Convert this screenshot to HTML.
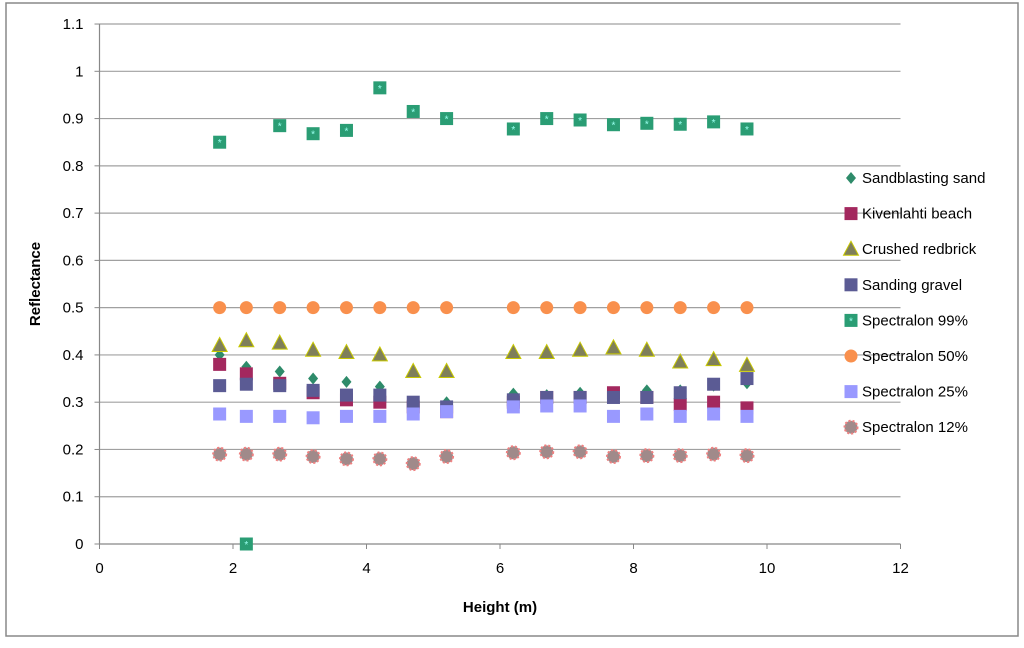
<!DOCTYPE html>
<html><head><meta charset="utf-8"><style>
body{margin:0;background:#fff;font-family:"Liberation Sans",Arial,sans-serif}
svg text{font-family:"Liberation Sans",Arial,sans-serif}
</style></head><body>
<svg id="c" width="1024" height="643" xmlns="http://www.w3.org/2000/svg">
<rect x="6" y="3" width="1012" height="633" fill="#fff" stroke="#888" stroke-width="1.5"/>
<g id="grid"></g><g id="axes"></g><g id="marks"></g><g id="legend"></g>
<text x="500" y="612" text-anchor="middle" font-size="15" font-weight="bold">Height (m)</text>
<text transform="translate(40,284) rotate(-90)" text-anchor="middle" font-size="15" font-weight="bold">Reflectance</text>
</svg>
<script>
const heights=[1.8,2.2,2.7,3.2,3.7,4.2,4.7,5.2,6.2,6.7,7.2,7.7,8.2,8.7,9.2,9.7];
const seriesNames=["Sandblasting sand","Kivenlahti beach","Crushed redbrick","Sanding gravel","Spectralon 99%","Spectralon 50%","Spectralon 25%","Spectralon 12%"];
const sandblasting=[0.40,0.375,0.365,0.35,0.343,0.333,0.30,0.30,0.318,0.315,0.32,0.32,0.325,0.325,0.335,0.34];
const kivenlahti=[0.38,0.36,0.34,0.32,0.305,0.30,0.29,0.28,0.30,0.31,0.31,0.32,0.31,0.295,0.30,0.288];
const redbrick=[0.42,0.43,0.425,0.41,0.405,0.40,0.365,0.365,0.405,0.405,0.41,0.415,0.41,0.385,0.39,0.378];
const gravel=[0.335,0.338,0.335,0.325,0.315,0.315,0.30,0.29,0.305,0.31,0.31,0.31,0.31,0.32,0.338,0.35];
const spec99=[0.85,0.0,0.885,0.868,0.875,0.965,0.915,0.90,0.878,0.90,0.897,0.887,0.89,0.888,0.893,0.878];
const spec50=[0.5,0.5,0.5,0.5,0.5,0.5,0.5,0.5,0.5,0.5,0.5,0.5,0.5,0.5,0.5,0.5];
const spec25=[0.275,0.27,0.27,0.267,0.27,0.27,0.275,0.28,0.29,0.292,0.292,0.27,0.275,0.27,0.275,0.27];
const spec12=[0.19,0.19,0.19,0.185,0.18,0.18,0.17,0.185,0.193,0.195,0.195,0.185,0.187,0.187,0.19,0.187];
const yTicks=["0","0.1","0.2","0.3","0.4","0.5","0.6","0.7","0.8","0.9","1","1.1"];
const xTicks=["0","2","4","6","8","10","12"];
const NS="http://www.w3.org/2000/svg";
const X=v=>99.5+v*66.75, Y=v=>544-v*472.7;
function mk(t,a,p){const e=document.createElementNS(NS,t);for(const k in a)e.setAttribute(k,a[k]);p.appendChild(e);return e;}
const grid=document.getElementById('grid'),axes=document.getElementById('axes'),marks=document.getElementById('marks'),leg=document.getElementById('legend');
yTicks.forEach((t,i)=>{const v=parseFloat(t),y=Y(v);
 if(v>0){const g=mk('line',{x1:X(0),x2:X(12),y1:y,y2:y,stroke:'#a0a0a0','stroke-width':1.2},grid);}
 const tk=mk('line',{x1:X(0)-5,x2:X(0),y1:y,y2:y,stroke:'#888'},axes);
 const tx=mk('text',{x:X(0)-16,y:y+5,'text-anchor':'end','font-size':15},axes);tx.textContent=t;
 });
xTicks.forEach(t=>{const x=X(parseFloat(t));
 const tk=mk('line',{x1:x,x2:x,y1:Y(0),y2:Y(0)+5,stroke:'#888'},axes);
 const tx=mk('text',{x:x,y:Y(0)+29,'text-anchor':'middle','font-size':15},axes);tx.textContent=t;
 });
const ax1=mk('line',{x1:X(0),x2:X(0),y1:Y(1.1),y2:Y(0),stroke:'#888','stroke-width':1.2},axes);
const ax2=mk('line',{x1:X(0),x2:X(12),y1:Y(0),y2:Y(0),stroke:'#888','stroke-width':1.2},axes);
function marker(kind,x,y,p){
 if(kind==0)return mk('path',{d:`M${x} ${y-6}L${x+5} ${y}L${x} ${y+6}L${x-5} ${y}Z`,fill:'#2e8b6a'},p);
 if(kind==1)return mk('rect',{x:x-6.5,y:y-6.5,width:13,height:13,fill:'#a3285e'},p);
 if(kind==2)return mk('path',{d:`M${x} ${y-8}L${x+7.5} ${y+6}L${x-7.5} ${y+6}Z`,fill:'#7f7f5a',stroke:'#c8c800','stroke-width':1},p);
 if(kind==3)return mk('rect',{x:x-6.5,y:y-6.5,width:13,height:13,fill:'#5b5b94'},p);
 if(kind==4){const g=mk('g',{},p);mk('rect',{x:x-6.5,y:y-6.5,width:13,height:13,fill:'#2a9d74'},g);const t=mk('text',{x:x,y:y+4,'text-anchor':'middle','font-size':10,fill:'#9fe'},g);t.textContent='*';return g;}
 if(kind==5)return mk('circle',{cx:x,cy:y,r:6.5,fill:'#f9904d'},p);
 if(kind==6)return mk('rect',{x:x-6.5,y:y-6.5,width:13,height:13,fill:'#9999ff'},p);
 return mk('circle',{cx:x,cy:y,r:6.5,fill:'#a08a8a',stroke:'#f08080','stroke-width':2,'stroke-dasharray':'2 2'},p);
}
const all=[sandblasting,kivenlahti,redbrick,gravel,spec99,spec50,spec25,spec12];
all.forEach((arr,s)=>{arr.forEach((v,i)=>{const m=marker(s,X(heights[i]),Y(v),marks);
 
 });});
seriesNames.forEach((n,i)=>{const y=178+i*35.6;const g=mk('g',{},leg);
 
 
 marker(i,851,y,g);const t=mk('text',{x:862,y:y+5,'font-size':15},g);t.textContent=n;});
</script>
</body></html>
